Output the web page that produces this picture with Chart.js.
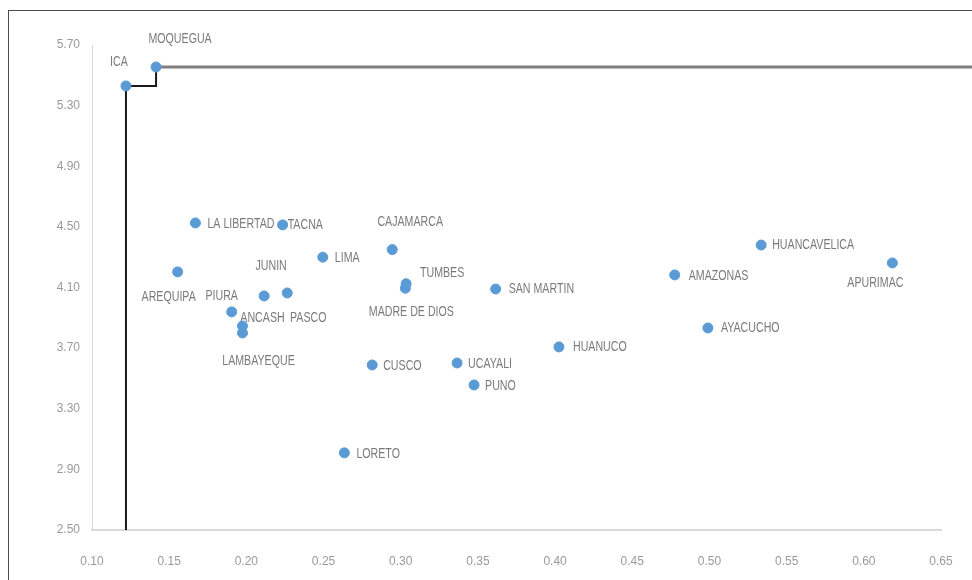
<!DOCTYPE html>
<html>
<head>
<meta charset="utf-8">
<script src="https://cdn.jsdelivr.net/npm/chart.js@4/dist/chart.umd.min.js"></script>
<style>
  html, body { margin: 0; padding: 0; background: #fff; overflow: hidden; }
  #wrap { position: relative; width: 972px; height: 580px; }
  #frame { position: absolute; left: 8px; top: 10px; width: 2000px; height: 2000px; border: 1px solid #4d4d4d; }
  canvas { position: absolute; left: 0; top: 0; }
</style>
</head>
<body>
<div id="wrap">
  <div id="frame"></div>
  <canvas id="chart" width="972" height="580"></canvas>
</div>
<script>
// regions and their values
const regions = ["ICA", "MOQUEGUA", "LA LIBERTAD", "TACNA", "CAJAMARCA", "HUANCAVELICA", "LIMA", "APURIMAC",
  "AREQUIPA", "AMAZONAS", "TUMBES", "MADRE DE DIOS", "SAN MARTIN", "JUNIN", "PASCO", "PIURA", "ANCASH",
  "LAMBAYEQUE", "CUSCO", "UCAYALI", "PUNO", "HUANUCO", "AYACUCHO", "LORETO"];
const xValues = [0.122, 0.1415, 0.167, 0.2235, 0.2945, 0.5335, 0.2495, 0.6185,
  0.1555, 0.4775, 0.3035, 0.303, 0.3615, 0.2115, 0.2265, 0.1905, 0.1975,
  0.1975, 0.2815, 0.3365, 0.3475, 0.4025, 0.499, 0.2635];
const yValues = [5.43, 5.555, 4.526, 4.513, 4.35, 4.38, 4.30, 4.262,
  4.203, 4.183, 4.125, 4.095, 4.09, 4.044, 4.064, 3.939, 3.846,
  3.80, 3.589, 3.602, 3.457, 3.708, 3.833, 3.009];

// frontier (step line)
const frontierX = [0.122, 0.122, 0.1415, 0.1415];
const frontierY = [2.50, 5.43, 5.43, 5.555];
const topLineX = [0.1415, 0.68];
const topLineY = [5.555, 5.555];

// axis ticks
const xTicks = [0.10, 0.15, 0.20, 0.25, 0.30, 0.35, 0.40, 0.45, 0.50, 0.55, 0.60, 0.65];
const yTicks = [2.50, 2.90, 3.30, 3.70, 4.10, 4.50, 4.90, 5.30, 5.70];

// label placement: [align, dx, dy]
const labelPlace = [
  ["center", -7, -24], ["center", 24, -28], ["left", 12, 1], ["left", 5, 0], ["center", 18, -27],
  ["left", 11, 0], ["left", 12, 1], ["center", -17, 20], ["center", -9, 25], ["left", 14, 1],
  ["center", 36, -11], ["center", 6, 24], ["left", 13, 0], ["center", 7, -30], ["center", 21, 25],
  ["center", -10, -16], ["center", 20, -8], ["center", 16, 28], ["left", 11, 1], ["left", 11, 1],
  ["left", 11, 1], ["left", 14, 0], ["left", 13, 0], ["left", 12, 1]
];

const points = regions.map((r, i) => ({ x: xValues[i], y: yValues[i] }));
const frontier = frontierX.map((x, i) => ({ x: x, y: frontierY[i] }));
const topLine = topLineX.map((x, i) => ({ x: x, y: topLineY[i] }));

const FONT = '"Liberation Sans", Arial, sans-serif';

const pointLabels = {
  id: "pointLabels",
  beforeDatasetsDraw(chart) {
    const ctx = chart.ctx;
    const meta = chart.getDatasetMeta(0);
    meta.data.forEach((el, i) => {
      const p = labelPlace[i];
      ctx.save();
      ctx.translate(el.x + p[1], el.y + p[2]);
      ctx.scale(0.76, 1);
      ctx.font = "14px " + FONT;
      ctx.fillStyle = "#7a7a7a";
      ctx.textBaseline = "middle";
      ctx.textAlign = p[0];
      ctx.fillText(regions[i], 0, 0);
      ctx.restore();
    });
  }
};

new Chart(document.getElementById("chart"), {
  type: "scatter",
  data: {
    datasets: [
      { data: points, backgroundColor: "#5b9bd5", borderColor: "#5b9bd5", pointRadius: 5, pointHoverRadius: 5 },
      { type: "line", data: frontier, borderColor: "#1a1a1a", borderWidth: 2, pointRadius: 0, fill: false, tension: 0 },
      { type: "line", data: topLine, borderColor: "#7f7f7f", borderWidth: 3, pointRadius: 0, fill: false, tension: 0, clip: false }
    ]
  },
  options: {
    responsive: false,
    animation: false,
    layout: { padding: { left: 0, top: 45, right: 31, bottom: 0 } },
    plugins: { legend: { display: false }, tooltip: { enabled: false } },
    scales: {
      x: {
        type: "linear", min: 0.10, max: 0.65,
        afterFit: (s) => { s.height = 50; s.paddingLeft = 0; s.paddingRight = 0; },
        afterBuildTicks: (s) => { s.ticks = xTicks.map(v => ({ value: v })); },
        grid: { display: false, drawTicks: false },
        border: { color: "#d9d9d9", width: 2 },
        ticks: { padding: 24, color: "#9a9a9a", font: { size: 12, family: FONT }, callback: (v) => v.toFixed(2), maxRotation: 0 }
      },
      y: {
        type: "linear", min: 2.50, max: 5.70,
        afterFit: (s) => { s.width = 92; s.paddingTop = 0; s.paddingBottom = 0; },
        afterBuildTicks: (s) => { s.ticks = yTicks.map(v => ({ value: v })); },
        grid: { display: false, drawTicks: false },
        border: { color: "#d9d9d9", width: 1 },
        ticks: { padding: 12, color: "#9a9a9a", font: { size: 12, family: FONT }, callback: (v) => v.toFixed(2) }
      }
    }
  },
  plugins: [pointLabels]
});
</script>
</body>
</html>
